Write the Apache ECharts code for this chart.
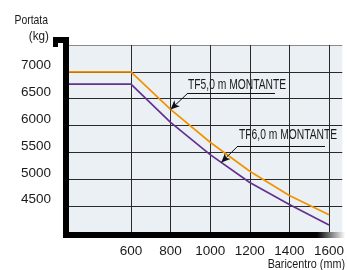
<!DOCTYPE html>
<html>
<head>
<meta charset="utf-8">
<title>Portata - Baricentro</title>
<script src="https://cdn.jsdelivr.net/npm/echarts@6/dist/echarts.min.js"></script>
<style>
html, body { margin: 0; padding: 0; background: #fff; }
#main { width: 347px; height: 270px; }
</style>
</head>
<body>
<div id="main"></div>
<script>
// dati
var baricentro = [287, 600, 800, 1000, 1200, 1400, 1600];
var tf50 = [7000, 7000, 6300, 5690, 5150, 4700, 4340];
var tf60 = [6770, 6770, 6060, 5460, 4940, 4530, 4150];
var xTicks = [600, 800, 1000, 1200, 1400, 1600];
var nomi = ['TF5,0 m MONTANTE', 'TF6,0 m MONTANTE'];
var frecce = [800, 1056];   // dove puntano le frecce

var font = '"Liberation Sans", Arial, sans-serif';

function valoreA(ys, x) {
    for (var i = 1; i < baricentro.length; i++) {
        if (x <= baricentro[i]) {
            var t = (x - baricentro[i - 1]) / (baricentro[i] - baricentro[i - 1]);
            return ys[i - 1] + t * (ys[i] - ys[i - 1]);
        }
    }
    return ys[ys.length - 1];
}
function coppie(ys) {
    return baricentro.map(function (x, i) { return [x, ys[i]]; });
}
function nota(ys, xf, px, py, len) {
    return {
        silent: true,
        animation: false,
        symbol: ['arrow', 'none'],
        symbolSize: [6, 9],
        label: { show: false },
        lineStyle: { color: '#111', width: 1, type: 'solid' },
        emphasis: { disabled: true },
        data: [
            [{ coord: [xf, valoreA(ys, xf)] }, { x: px, y: py }],
            [{ x: px, y: py, symbol: 'none' }, { x: px + len, y: py, symbol: 'none' }]
        ]
    };
}
// testo stretto (condensed) scalando in orizzontale
function testo(t, x, y, size, sx, align) {
    return {
        type: 'text', x: x, y: y, scaleX: sx,
        style: { text: t, x: 0, y: 0, align: align, verticalAlign: 'middle', font: size + 'px ' + font, fill: '#1a1a1a' }
    };
}

var chart = echarts.init(document.getElementById('main'));
chart.setOption({
    animation: false,
    grid: {
        left: 66, right: 0, top: 45, bottom: 37,
        show: true, backgroundColor: '#EBF0F5', borderWidth: 0
    },
    xAxis: {
        type: 'value', min: 272, max: 1667,
        offset: 2,
        axisLine: { lineStyle: {
            width: 6, cap: 'square',
            color: new echarts.graphic.LinearGradient(0, 0, 1, 0, [
                { offset: 0, color: '#000' }, { offset: 0.9, color: '#000' }, { offset: 1, color: '#fff' }
            ])
        } },
        axisTick: { show: false, customValues: xTicks },
        axisLabel: {
            customValues: xTicks, margin: 9, color: '#1a1a1a', fontFamily: font, fontSize: 13.5,
            formatter: function (v) { return String(v); }
        },
        splitLine: { show: true, lineStyle: { color: '#2a2a2a', width: 1 } }
    },
    yAxis: {
        type: 'value', min: 4000, max: 7500, interval: 500,
        axisLine: { show: true, lineStyle: { color: '#000', width: 6, cap: 'square' } },
        axisTick: { show: false },
        axisLabel: {
            showMinLabel: false, showMaxLabel: false, margin: 15,
            color: '#1a1a1a', fontFamily: font, fontSize: 13.5,
            verticalAlign: 'bottom', lineHeight: 13,
            formatter: function (v) { return String(v); }
        },
        splitLine: { show: true, lineStyle: {
            width: 1,
            color: ['#2a2a2a', '#2a2a2a', '#2a2a2a', '#2a2a2a', '#2a2a2a', '#2a2a2a', '#2a2a2a', '#8a8a8a']
        } }
    },
    series: [
        {
            name: nomi[0], type: 'line', data: coppie(tf50), symbol: 'none',
            lineStyle: { color: '#F39200', width: 1.7 },
            markLine: nota(tf50, frecce[0], 188, 93, 87)
        },
        {
            name: nomi[1], type: 'line', data: coppie(tf60), symbol: 'none',
            lineStyle: { color: '#63308F', width: 1.7 },
            markLine: nota(tf60, frecce[1], 238, 146, 87)
        }
    ],
    graphic: [
        { type: 'rect', shape: { x: 53, y: 37, width: 16, height: 6 }, style: { fill: '#000' } },
        { type: 'rect', shape: { x: 53, y: 43, width: 5, height: 4 }, style: { fill: '#000' } },
        { type: 'rect', shape: { x: 63, y: 37, width: 6, height: 10 }, style: { fill: '#000' } },
        testo('Portata', 48, 20, 13, 0.8, 'right'),
        testo('(kg)', 49, 36, 13, 0.9, 'right'),
        testo('Baricentro (mm)', 345, 264, 13, 0.83, 'right'),
        testo(nomi[0], 188, 85, 14, 0.735, 'left'),
        testo(nomi[1], 239, 135, 14, 0.735, 'left')
    ]
});
</script>
</body>
</html>
